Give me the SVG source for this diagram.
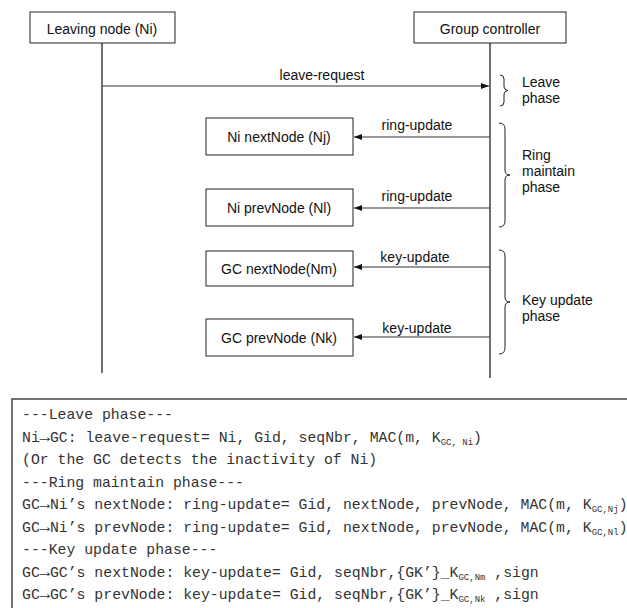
<svg xmlns="http://www.w3.org/2000/svg" width="627" height="608" viewBox="0 0 627 608">
<style>
.box{fill:#fff;stroke:#222;stroke-width:1}
.lbl{font-family:"Liberation Sans",Arial,sans-serif;font-size:14px;fill:#111}
.life{stroke:#111;stroke-width:1.2;fill:none}
.msg{stroke:#333;stroke-width:1.2;fill:none}
.brace{stroke:#222;stroke-width:1;fill:none}
.code{font-family:"Liberation Mono","Courier New",monospace;font-size:14.8px;fill:#333;white-space:pre}
.sub{font-size:9px}
.arw{font-weight:bold;font-size:17px}
</style>
<defs>
<marker id="ah" markerWidth="8" markerHeight="6" refX="8" refY="3" orient="auto" markerUnits="userSpaceOnUse">
<path d="M0,0 L8,3 L0,6 Z" fill="#111"/>
</marker>
</defs>
<g id="node-leaving">
<rect class="box" x="30" y="12" width="145" height="31"/>
<text class="lbl" x="102" y="34" text-anchor="middle">Leaving node (Ni)</text>
</g>
<g id="node-gc">
<rect class="box" x="414" y="12" width="152" height="31"/>
<text class="lbl" x="490" y="34" text-anchor="middle">Group controller</text>
</g>
<g id="node-nj">
<rect class="box" x="206" y="118" width="147" height="37"/>
<text class="lbl" x="279" y="142" text-anchor="middle">Ni nextNode (Nj)</text>
</g>
<g id="node-nl">
<rect class="box" x="206" y="189" width="147" height="37"/>
<text class="lbl" x="279" y="213" text-anchor="middle">Ni prevNode (Nl)</text>
</g>
<g id="node-nm">
<rect class="box" x="206" y="251" width="147" height="35"/>
<text class="lbl" x="279" y="274" text-anchor="middle">GC nextNode(Nm)</text>
</g>
<g id="node-nk">
<rect class="box" x="206" y="319" width="147" height="37"/>
<text class="lbl" x="279" y="343" text-anchor="middle">GC prevNode (Nk)</text>
</g>
<g id="connectors">
<line class="life" x1="102" y1="43" x2="102" y2="373"/>
<line class="life" x1="490" y1="43" x2="490" y2="378"/>
<line class="msg" x1="102" y1="86" x2="489" y2="86" marker-end="url(#ah)"/>
<text class="lbl" x="322" y="80" text-anchor="middle">leave-request</text>
<line class="msg" x1="490" y1="137" x2="354" y2="137" marker-end="url(#ah)"/>
<text class="lbl" x="417" y="130" text-anchor="middle">ring-update</text>
<line class="msg" x1="490" y1="208" x2="354" y2="208" marker-end="url(#ah)"/>
<text class="lbl" x="417" y="201" text-anchor="middle">ring-update</text>
<line class="msg" x1="490" y1="267" x2="354" y2="267" marker-end="url(#ah)"/>
<text class="lbl" x="415" y="262" text-anchor="middle">key-update</text>
<line class="msg" x1="490" y1="337" x2="354" y2="337" marker-end="url(#ah)"/>
<text class="lbl" x="417" y="333" text-anchor="middle">key-update</text>
</g>
<g id="phase-leave">
<path class="brace" d="M500,75 Q504,75 504,79 L504,87 Q504,90 508,90.5 Q504,91 504,94 L504,102 Q504,106 500,106"/>
<text class="lbl" x="522" y="87">Leave</text>
<text class="lbl" x="522" y="103">phase</text>
</g>
<g id="phase-ring">
<path class="brace" d="M499,123 Q505,123 505,129 L505,170 Q505,175 510,175 Q505,175 505,180 L505,221 Q505,227 499,227"/>
<text class="lbl" x="522" y="160">Ring</text>
<text class="lbl" x="522" y="176">maintain</text>
<text class="lbl" x="522" y="192">phase</text>
</g>
<g id="phase-key">
<path class="brace" d="M499,250 Q505,250 505,256 L505,297 Q505,302 510,302 Q505,302 505,307 L505,348 Q505,354 499,354"/>
<text class="lbl" x="522" y="305">Key update</text>
<text class="lbl" x="522" y="321">phase</text>
</g>
<g id="protocol-box">
<rect x="12" y="399" width="640" height="240" fill="#fff" stroke="#444" stroke-width="1.5"/>
<text class="code" x="22" y="419">---Leave phase---</text>
<text class="code" x="22" y="441.5">Ni<tspan class="arw">→</tspan>GC: leave-request= Ni, Gid, seqNbr, MAC(m, K<tspan class="sub" dy="3">GC, Ni</tspan><tspan dy="-3">)</tspan></text>
<text class="code" x="22" y="464">(Or the GC detects the inactivity of Ni)</text>
<text class="code" x="22" y="486.5">---Ring maintain phase---</text>
<text class="code" x="22" y="509">GC<tspan class="arw">→</tspan>Ni’s nextNode: ring-update= Gid, nextNode, prevNode, MAC(m, K<tspan class="sub" dy="3">GC,Nj</tspan><tspan dy="-3">)</tspan></text>
<text class="code" x="22" y="531.5">GC<tspan class="arw">→</tspan>Ni’s prevNode: ring-update= Gid, nextNode, prevNode, MAC(m, K<tspan class="sub" dy="3">GC,Nl</tspan><tspan dy="-3">)</tspan></text>
<text class="code" x="22" y="554">---Key update phase---</text>
<text class="code" x="22" y="576.5">GC<tspan class="arw">→</tspan>GC’s nextNode: key-update= Gid, seqNbr,{GK’}_K<tspan class="sub" dy="3">GC,Nm</tspan><tspan dy="-3"> ,sign</tspan></text>
<text class="code" x="22" y="599">GC<tspan class="arw">→</tspan>GC’s prevNode: key-update= Gid, seqNbr,{GK’}_K<tspan class="sub" dy="3">GC,Nk</tspan><tspan dy="-3"> ,sign</tspan></text>
</g>
</svg>
